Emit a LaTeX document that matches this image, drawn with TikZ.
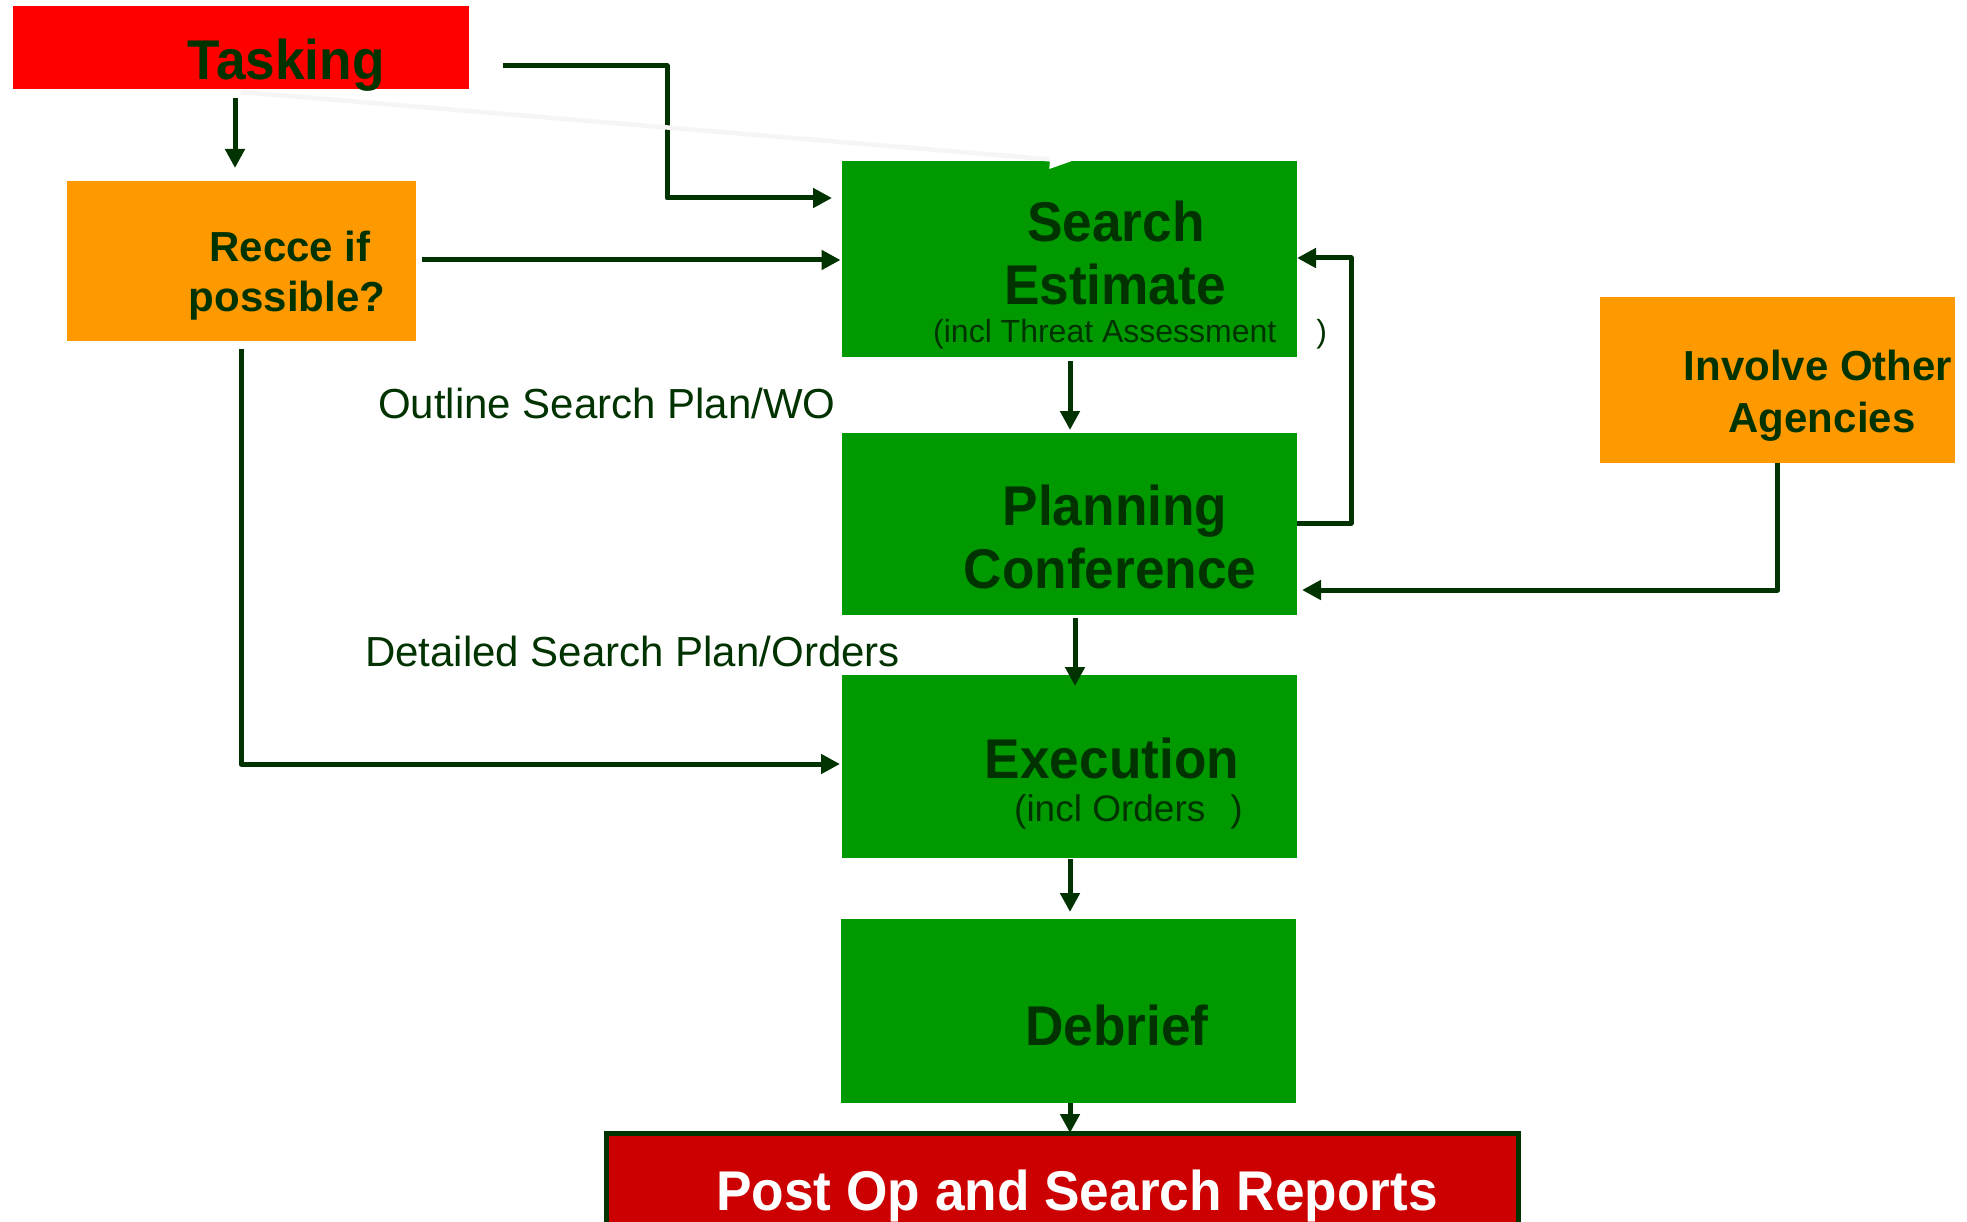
\documentclass[tikz,border=0pt]{standalone}
\usepackage{fontspec}
\setmainfont{Liberation Sans}
\newfontfamily\stf{Liberation Sans}[FakeStretch=0.95]
\usetikzlibrary{arrows.meta}
\definecolor{dg}{HTML}{003300}
\definecolor{gfill}{HTML}{009900}
\definecolor{ofill}{HTML}{FF9900}
\definecolor{rfill}{HTML}{FF0000}
\definecolor{pfill}{HTML}{CC0000}
\definecolor{faintgray}{HTML}{F5F5F5}
\begin{document}
\begin{tikzpicture}[x=1pt,y=-1pt,
  box/.style={rectangle, inner sep=0pt, outer sep=0pt, draw=none},
  gbox/.style={box, fill=gfill},
  obox/.style={box, fill=ofill},
  big/.style={anchor=base, text=dg, font=\stf\bfseries\fontsize{56}{60}\selectfont, inner sep=0pt},
  mid/.style={anchor=base, text=dg, font=\bfseries\fontsize{42}{50}\selectfont, inner sep=0pt},
  smalltxt/.style={anchor=base west, text=dg, inner sep=0pt},
  arr/.style={draw=dg, line width=5pt, line join=round, -{Triangle[length=19pt,width=19pt]}},
  faint/.style={draw=faintgray, line width=4.5pt, -{Triangle[length=22pt,width=18pt,color=white]}}]
\clip (0,0) rectangle (1967,1222);
\fill[white] (0,0) rectangle (1967,1222);

% boxes
\node[box, fill=rfill, minimum width=456.5pt, minimum height=83pt] (tasking) at (240.75,47.5) {};
\node[obox, minimum width=349pt, minimum height=160pt] (recce) at (241,261) {};
\node[gbox, minimum width=455pt, minimum height=196pt] (search) at (1069.5,259) {};
\node[gbox, minimum width=455pt, minimum height=182pt] (planning) at (1069.5,524) {};
\node[gbox, minimum width=455pt, minimum height=183pt] (execution) at (1069.5,766.5) {};
\node[gbox, minimum width=455.5pt, minimum height=184pt] (debrief) at (1068.25,1011) {};
\node[obox, minimum width=355pt, minimum height=166pt] (involve) at (1777.5,380) {};
\node[box, fill=pfill, draw=dg, line width=5pt, minimum width=912pt, minimum height=107pt] (postop) at (1062,1186.5) {};

% texts
\node[big] (tTasking) at (286,80) {Tasking};
\node[mid] (tRecce1) at (290,262) {Recce if};
\node[mid] (tRecce2) at (287,312) {possible?};
\node[big] (tSearch1) at (1116,242) {Search};
\node[big] (tSearch2) at (1115,305) {Estimate};
\node[smalltxt, font=\fontsize{32}{38}\selectfont] (tSearch3) at (933,343) {(incl Threat Assessment\hspace{40pt})};
\node[big] (tPlan1) at (1115,525) {Planning};
\node[big] (tPlan2) at (1110,588) {Conference};
\node[big] (tExec1) at (1112,778) {Execution};
\node[smalltxt, font=\fontsize{37}{44}\selectfont] (tExec2) at (1014,821) {(incl Orders\hspace{25pt})};
\node[big] (tDebrief) at (1117,1045) {Debrief};
\node[mid] (tInv1) at (1818,381) {Involve Other};
\node[mid] (tInv2) at (1822,432) {Agencies};
\node[big, text=white] (tPost) at (1077,1210) {Post Op and Search Reports};
\node[smalltxt, font=\fontsize{42}{50}\selectfont] (lblOutline) at (378,418) {Outline Search Plan/WO};
\node[smalltxt, font=\fontsize{42}{50}\selectfont] (lblDetailed) at (365,666) {Detailed Search Plan/Orders};

% connectors
\draw[arr, shorten <=9pt, shorten >=13pt] (tasking.south -| 235,0) -- (recce.north -| 235,0);
\draw[arr, shorten <=34pt, shorten >=10pt] (tasking.east |- 0,66) -| (667,198) -- (search.west |- 0,198);
\draw[arr, shorten <=6pt, shorten >=1.5pt] (recce.east |- 0,260) -- (search.west |- 0,260);
\draw[arr, shorten <=8pt, shorten >=2pt] (recce.south -| 241,0) |- (execution.west |- 0,764);
\draw[arr, shorten <=4pt, shorten >=3pt] (search.south -| 1070,0) -- (planning.north -| 1070,0);
\draw[arr] (planning.east |- 0,523) -| (1351,258) -- (search.east |- 0,258);
\draw[arr, shorten >=5pt] (involve.south) |- (planning.east |- 0,590);
\draw[arr, shorten <=3pt, shorten >=-11pt] (planning.south -| 1075,0) -- (execution.north -| 1075,0);
\draw[arr, shorten <=1pt, shorten >=7pt] (execution.south -| 1070,0) -- (debrief.north -| 1070,0);
\draw[arr] (debrief.south -| 1070,0) -- (postop.north -| 1070,0);
\draw[faint, shorten >=-2pt] ([yshift=-3pt]tasking.south) -- (search.north -| 1070,0);
\end{tikzpicture}
\end{document}
